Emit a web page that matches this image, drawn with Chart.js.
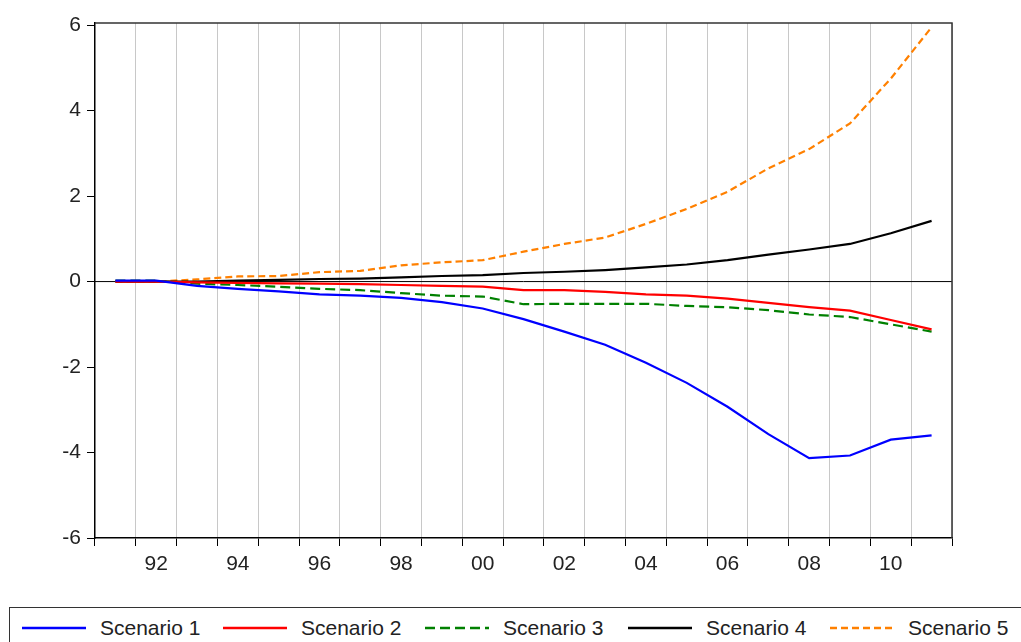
<!DOCTYPE html>
<html><head><meta charset="utf-8">
<script src="https://cdn.jsdelivr.net/npm/chart.js@4"></script>
<style>
body{margin:0;background:#fff;font-family:"Liberation Sans",Arial,sans-serif;}
#wrap{position:absolute;left:0;top:0;width:1021px;height:600px;}
#legend{position:absolute;left:9px;top:607px;width:1030px;height:40px;border:1px solid #333;box-sizing:border-box;font-size:21px;color:#222;white-space:nowrap;}
.it{position:absolute;top:8px;display:flex;align-items:center;}
.it svg{margin-right:14px;}
</style></head><body>
<div id="wrap"><canvas id="c" width="1021" height="600"></canvas></div>
<div id="legend"></div>
<script>
const years=["91","92","93","94","95","96","97","98","99","00","01","02","03","04","05","06","07","08","09","10","11"];
const s1=[0.02,0.02,-0.1,-0.17,-0.23,-0.3,-0.33,-0.38,-0.48,-0.63,-0.88,-1.17,-1.48,-1.9,-2.37,-2.93,-3.57,-4.13,-4.07,-3.7,-3.6];
const s2=[0,0,-0.02,-0.03,-0.04,-0.05,-0.06,-0.08,-0.1,-0.12,-0.2,-0.2,-0.24,-0.3,-0.33,-0.4,-0.5,-0.6,-0.68,-0.9,-1.12];
const s3=[0.02,0.02,-0.05,-0.08,-0.12,-0.17,-0.2,-0.27,-0.33,-0.35,-0.53,-0.52,-0.52,-0.52,-0.57,-0.6,-0.67,-0.77,-0.83,-1.0,-1.17];
const s4=[0,0,0,0.02,0.04,0.06,0.07,0.1,0.13,0.15,0.2,0.23,0.27,0.33,0.4,0.5,0.63,0.75,0.88,1.13,1.42];
const s5=[0,0,0.05,0.12,0.13,0.22,0.25,0.38,0.45,0.5,0.7,0.88,1.03,1.35,1.7,2.1,2.65,3.1,3.7,4.75,5.95];
const names=["Scenario 1","Scenario 2","Scenario 3","Scenario 4","Scenario 5"];
const colors=["#0000ff","#ff0000","#008000","#000000","#ff8000"];
const dashes=[[],[],[10,5],[],[7,4]];
const series=[s1,s2,s3,s4,s5];
const ds=series.map((d,i)=>({label:names[i],data:d,borderColor:colors[i],borderWidth:2.2,borderDash:dashes[i],pointRadius:0,tension:0,fill:false}));
const zeroLine={id:'z',beforeDatasetsDraw(ch){const{ctx,chartArea:a,scales:{y}}=ch;const p=y.getPixelForValue(0);ctx.save();ctx.strokeStyle='#000';ctx.lineWidth=1;ctx.beginPath();ctx.moveTo(a.left,p);ctx.lineTo(a.right,p);ctx.stroke();
ctx.strokeStyle='#333';ctx.lineWidth=1.5;ctx.beginPath();ctx.moveTo(a.left,a.top);ctx.lineTo(a.right,a.top);ctx.lineTo(a.right,a.bottom);ctx.stroke();ctx.restore();}};
new Chart(document.getElementById('c'),{type:'line',data:{labels:years,datasets:ds},
options:{responsive:false,animation:false,layout:{padding:{top:23,right:69,left:0,bottom:0}},
plugins:{legend:{display:false},tooltip:{enabled:false}},
scales:{
x:{type:'category',offset:true,grid:{offset:true,color:'#c8c8c8',lineWidth:1,drawTicks:true,tickLength:8,tickColor:'#000'},border:{color:'#000',width:1.5},
ticks:{autoSkip:false,maxRotation:0,color:'#222',padding:6,font:{size:21,family:'"Liberation Sans",Arial'},callback:(v,i)=>i%2===1?years[i]:''},afterFit(a){a.height=62;}},
y:{min:-6,max:6.05,afterBuildTicks(a){a.ticks=[-6,-4,-2,0,2,4,6].map(v=>({value:v}));},grid:{display:true,drawOnChartArea:false,tickLength:8,tickColor:'#000'},border:{color:'#000',width:1.5},
ticks:{color:'#222',font:{size:21,family:'"Liberation Sans",Arial'},padding:6},afterFit(a){a.width=95;}}
}},plugins:[zeroLine]});
const lg=document.getElementById('legend');
const lx=[12,213,415,618,820];
names.forEach((n,i)=>{const d=document.createElement('div');d.className='it';d.style.left=lx[i]+'px';
d.innerHTML=`<svg width="64" height="6"><line x1="0" y1="3" x2="64" y2="3" stroke="${colors[i]}" stroke-width="2.5" stroke-dasharray="${dashes[i].join(',')}"/></svg>${n}`;lg.appendChild(d);});
</script></body></html>
